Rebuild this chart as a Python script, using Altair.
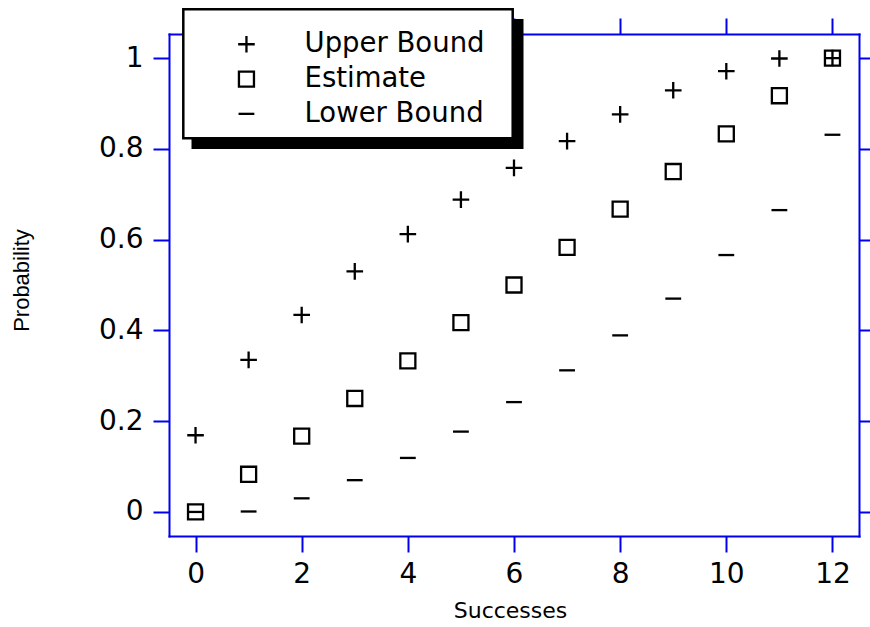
import altair as alt
import pandas as pd

# ---- data ----
successes = [0, 1, 2, 3, 4, 5, 6, 7, 8, 9, 10, 11, 12]
upper_bound = [0.169, 0.335, 0.434, 0.530, 0.612, 0.688, 0.758, 0.817, 0.876, 0.929, 0.971, 0.999, 1.0]
estimate = [0.0, 0.083, 0.167, 0.250, 0.333, 0.417, 0.500, 0.583, 0.667, 0.750, 0.833, 0.917, 1.0]
lower_bound = [0.0, 0.001, 0.030, 0.070, 0.119, 0.177, 0.242, 0.312, 0.389, 0.470, 0.566, 0.665, 0.831]

series_names = ["Upper Bound", "Estimate", "Lower Bound"]
x_ticks = [0, 2, 4, 6, 8, 10, 12]
y_ticks = [0, 0.2, 0.4, 0.6, 0.8, 1.0]

rows = []
for name, vals in zip(series_names, [upper_bound, estimate, lower_bound]):
    for k, v in zip(successes, vals):
        rows.append({"Successes": k, "Probability": v, "series": name})
df = pd.DataFrame(rows)

BLUE = "#0000EE"
FONT = "DejaVu Sans"
FONT_V = "Liberation Sans"

PLUS = "M-1.05,0L1.05,0M0,-1.05L0,1.05"
SQUARE = "M-0.95,-0.95L0.95,-0.95L0.95,0.95L-0.95,0.95Z"
MINUS = "M-1,0L1,0"

xscale = alt.Scale(domain=[-0.5, 12.5], nice=False, zero=False)
yscale = alt.Scale(domain=[-0.053, 1.053], nice=False, zero=False)

axis_common = dict(
    domainColor=BLUE, domainWidth=2, domainCap="square",
    tickColor=BLUE, tickWidth=2, tickSize=16,
    grid=False, zindex=0,
)

points = alt.Chart(df).mark_point(filled=False, strokeWidth=2.3, size=250, color="black", opacity=1).encode(
    x=alt.X("Successes:Q", scale=xscale,
            axis=alt.Axis(values=x_ticks, labelFontSize=28, labelFont=FONT, labelColor="black",
                          labelPadding=8, title="Successes", titleFont=FONT, titleFontSize=22,
                          titleFontWeight="normal", titleColor="black", titleX=341, titleY=81,
                          titleBaseline="alphabetic", titleAlign="center", **axis_common)),
    y=alt.Y("Probability:Q", scale=yscale,
            axis=alt.Axis(values=y_ticks, format="~g", labelFontSize=28, labelFont=FONT,
                          labelColor="black", labelPadding=10, title="Probability", titleFont=FONT_V,
                          titleFontSize=22, titleFontWeight="normal", titleColor="black",
                          titleAngle=270, titleX=-140.5, titleY=246, titleBaseline="alphabetic",
                          titleAlign="center", **axis_common)),
    shape=alt.Shape("series:N",
                    scale=alt.Scale(domain=series_names, range=[PLUS, SQUARE, MINUS]),
                    legend=alt.Legend(orient="none", legendX=63.7, legendY=-3.5, title=None,
                                      labelFontSize=27.5, labelFont=FONT, labelColor="black",
                                      labelOffset=44.3, labelLimit=400, rowPadding=5.8, padding=0,
                                      symbolSize=250, symbolStrokeWidth=2.3,
                                      symbolStrokeColor="black", zindex=1)),
)

frame = alt.Chart(df).mark_point(opacity=0).encode(
    x=alt.X("Successes:Q", scale=xscale,
            axis=alt.Axis(orient="top", values=x_ticks, labels=False, title=None, **axis_common)),
    y=alt.Y("Probability:Q", scale=yscale,
            axis=alt.Axis(orient="right", values=y_ticks, labels=False, title=None, **axis_common)),
)

one = pd.DataFrame({"a": [0]})
shadow = alt.Chart(one).mark_rect(color="black").encode(
    x=alt.value(22.5), x2=alt.value(354.5), y=alt.value(-15), y2=alt.value(115)
)
box = alt.Chart(one).mark_rect(fill="white", stroke="black", strokeWidth=2.5).encode(
    x=alt.value(14.3), x2=alt.value(343.7), y=alt.value(-24.7), y2=alt.value(104.3)
)

chart = alt.layer(frame, shadow, box, points).resolve_axis(
    x="independent", y="independent"
).properties(
    width=690, height=502,
    autosize=alt.AutoSizeParams(type="none"),
    padding={"left": 169, "top": 34, "right": 11, "bottom": 91},
    background="white",
).configure_view(stroke=None).configure(font=FONT)

chart.save("out.html", embed_options={"renderer": "svg", "actions": False})
